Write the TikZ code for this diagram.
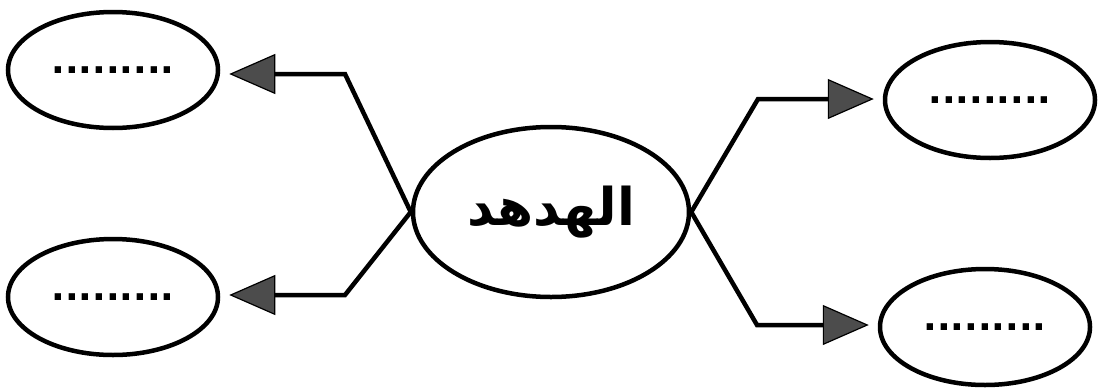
\documentclass[tikz,border=0pt]{standalone}
\usepackage{fontspec}
\newfontfamily\arabicfont[Script=Arabic]{DejaVu Sans}
\newfontfamily\dotfont{DejaVu Sans}
\TeXXeTstate=1
\usetikzlibrary{shapes.geometric,arrows.meta}
\begin{document}
\begin{tikzpicture}[x=1pt,y=-1pt,line width=4.5pt,
		bubble/.style={draw,ellipse,inner sep=0pt,minimum width=210pt,minimum height=116pt,font=\fontsize{36}{36}\dotfont\bfseries},
		link/.style={-{Triangle[length=46pt,width=40pt,line width=1.2pt,fill=black!70]},shorten >=9pt,line join=miter}]
	\useasboundingbox (0,0) rectangle (1099,391);
	\node[bubble,minimum width=276pt,minimum height=170pt,font=\fontsize{52}{52}\arabicfont\bfseries] (hub) at (551,212) {\beginR الهدهد\endR};
	\node[bubble] (tl) at (113,70) {.........};
	\node[bubble] (bl) at (113,297) {.........};
	\node[bubble] (tr) at (990,100) {.........};
	\node[bubble] (br) at (985,327) {.........};
	\coordinate (tlb) at (345,74);
	\coordinate (blb) at (345,295);
	\coordinate (trb) at (758,99);
	\coordinate (brb) at (757,325);
	\draw[link] (hub.west) -- (tlb) -- (tlb -| tl.east);
	\draw[link] (hub.west) -- (blb) -- (blb -| bl.east);
	\draw[link] (hub.east) -- (trb) -- (trb -| tr.west);
	\draw[link] (hub.east) -- (brb) -- (brb -| br.west);
\end{tikzpicture}
\end{document}
